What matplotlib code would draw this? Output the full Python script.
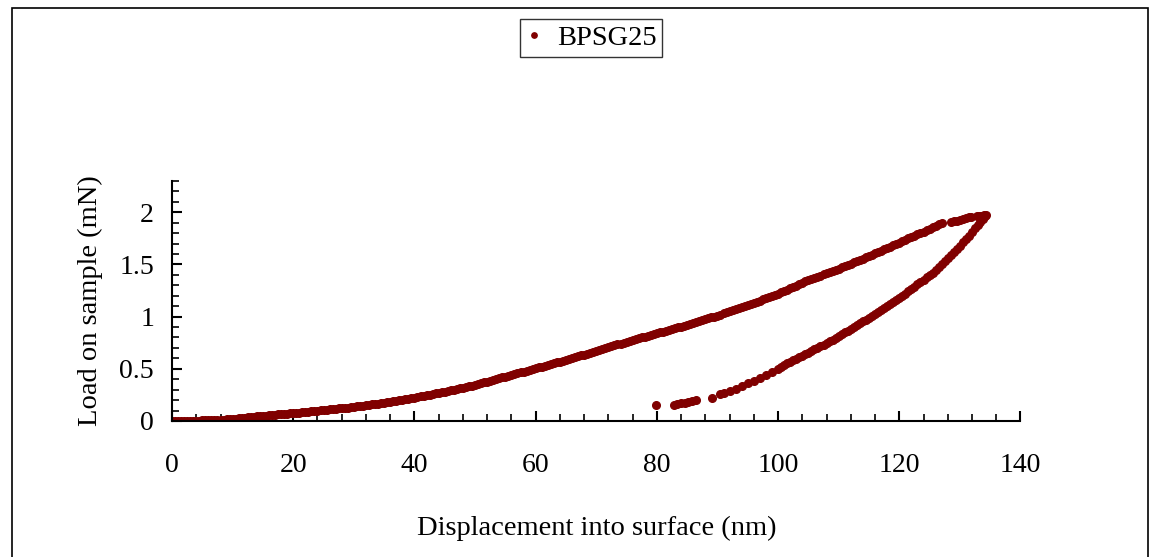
import numpy as np
import matplotlib
matplotlib.use("Agg")
from matplotlib import pyplot as plt
from matplotlib.patches import Rectangle
from matplotlib.ticker import MultipleLocator

plt.rcParams['font.family'] = ['Liberation Serif', 'DejaVu Serif']

# loading branch, every 0.5 nm (nm, mN)
load_x = np.arange(0, 127.5, 0.5)
load_y = [0.000, 0.0005, 0.001, 0.0015, 0.002, 0.0025, 0.003, 0.0035, 0.004, 0.0045,
          0.005, 0.006, 0.007, 0.008, 0.009, 0.0105, 0.012, 0.014, 0.016, 0.018,
          0.020, 0.023, 0.026, 0.029, 0.032, 0.035, 0.038, 0.041, 0.044, 0.047,
          0.050, 0.0525, 0.055, 0.0575, 0.060, 0.0625, 0.065, 0.0675, 0.070, 0.0725,
          0.075, 0.078, 0.081, 0.084, 0.087, 0.090, 0.093, 0.096, 0.099, 0.102,
          0.105, 0.108, 0.111, 0.114, 0.117, 0.120, 0.123, 0.126, 0.129, 0.132,
          0.135, 0.139, 0.143, 0.147, 0.151, 0.155, 0.159, 0.163, 0.167, 0.171,
          0.175, 0.1795, 0.184, 0.1885, 0.193, 0.1975, 0.202, 0.2065, 0.211, 0.218,
          0.225, 0.2305, 0.236, 0.2415, 0.247, 0.2525, 0.258, 0.2635, 0.269, 0.2745,
          0.280, 0.2865, 0.293, 0.2995, 0.306, 0.3125, 0.319, 0.3255, 0.332, 0.3385,
          0.345, 0.353, 0.361, 0.369, 0.377, 0.385, 0.393, 0.401, 0.409, 0.417,
          0.425, 0.433, 0.441, 0.449, 0.457, 0.465, 0.473, 0.481, 0.489, 0.497,
          0.505, 0.513, 0.521, 0.529, 0.537, 0.545, 0.553, 0.561, 0.569, 0.577,
          0.585, 0.5935, 0.602, 0.6105, 0.619, 0.6275, 0.636, 0.6445, 0.653, 0.6615,
          0.670, 0.679, 0.688, 0.697, 0.706, 0.715, 0.724, 0.733, 0.742, 0.751,
          0.760, 0.768, 0.776, 0.784, 0.792, 0.800, 0.808, 0.816, 0.824, 0.832,
          0.840, 0.848, 0.856, 0.864, 0.872, 0.880, 0.888, 0.896, 0.904, 0.912,
          0.920, 0.929, 0.938, 0.947, 0.956, 0.965, 0.974, 0.983, 0.992, 1.001,
          1.010, 1.020, 1.030, 1.040, 1.050, 1.060, 1.070, 1.080, 1.090, 1.100,
          1.110, 1.121, 1.132, 1.143, 1.154, 1.165, 1.176, 1.187, 1.198, 1.209,
          1.220, 1.233, 1.246, 1.259, 1.272, 1.285, 1.298, 1.311, 1.324, 1.337,
          1.350, 1.361, 1.372, 1.383, 1.394, 1.405, 1.416, 1.427, 1.438, 1.449,
          1.460, 1.472, 1.484, 1.496, 1.508, 1.520, 1.532, 1.544, 1.556, 1.568,
          1.580, 1.593, 1.606, 1.619, 1.632, 1.645, 1.658, 1.671, 1.684, 1.697,
          1.710, 1.723, 1.736, 1.749, 1.762, 1.775, 1.788, 1.801, 1.814, 1.827,
          1.840, 1.855, 1.870, 1.885, 1.900]

# hold near peak load
hold_x = [128.5, 129.0, 129.5, 130.0, 130.5, 131.0, 131.5, 131.9,
          132.8, 133.1, 133.4, 133.7, 134.0, 134.3]
hold_y = [1.905, 1.912, 1.920, 1.928, 1.937, 1.945, 1.952, 1.957,
          1.960, 1.963, 1.966, 1.969, 1.970, 1.970]

# unloading branch
unload_x = [134.2, 133.8, 133.4, 133.0, 132.5, 132.0, 131.5, 131.0, 130.5, 130.0,
            129.5, 129.0, 128.5, 128.0, 127.5, 127.0, 126.5, 126.0, 125.5, 125.0,
            124.5, 124.0, 123.5, 123.0, 122.5, 122.0, 121.5, 121.0, 120.5, 120.0,
            119.5, 119.0, 118.5, 118.0, 117.5, 117.0, 116.5, 116.0, 115.5, 115.0,
            114.5, 114.0, 113.5, 113.0, 112.5, 112.0, 111.5, 111.0, 110.5, 110.0,
            109.5, 109.0, 108.5, 108.0, 107.5, 107.0, 106.5, 106.0, 105.5, 105.0,
            104.5, 104.0, 103.5, 103.0, 102.5, 102.0, 101.5, 101.0, 100.5, 100.0,
            99.0, 98.0, 97.0, 96.0, 95.0, 94.0, 93.0, 92.0, 91.0, 90.4,
            89.1,
            86.4, 85.8, 85.2, 84.6, 84.0, 83.4, 82.8,
            79.9]
unload_y = [1.960, 1.935, 1.910, 1.880, 1.845, 1.810, 1.777, 1.745, 1.712, 1.680,
            1.650, 1.620, 1.590, 1.560, 1.530, 1.500, 1.472, 1.445, 1.422, 1.400,
            1.377, 1.355, 1.332, 1.310, 1.287, 1.265, 1.242, 1.220, 1.200, 1.180,
            1.160, 1.140, 1.120, 1.100, 1.080, 1.060, 1.042, 1.025, 1.007, 0.990,
            0.972, 0.955, 0.937, 0.920, 0.902, 0.885, 0.867, 0.850, 0.832, 0.815,
            0.797, 0.780, 0.764, 0.748, 0.732, 0.716, 0.700, 0.685, 0.670, 0.655,
            0.640, 0.625, 0.610, 0.595, 0.580, 0.566, 0.552, 0.538, 0.520, 0.502,
            0.470, 0.440, 0.410, 0.385, 0.360, 0.335, 0.310, 0.290, 0.270, 0.255,
            0.225,
            0.200, 0.192, 0.184, 0.176, 0.168, 0.160, 0.153,
            0.153]

x = np.concatenate([load_x, hold_x, unload_x])
y = np.concatenate([load_y, hold_y, unload_y])

color = '#800000'

fig = plt.figure(figsize=(11.57, 5.57), dpi=100)
ax = fig.add_axes([0.1487, 0.2442, 0.7333, 0.4309])

line, = ax.plot(x, y, linestyle='none', marker='o', markersize=5.5,
                markerfacecolor=color, markeredgecolor=color, label='BPSG25')

ax.set_xlim(0, 140)
ax.set_ylim(0, 2.3)
ax.xaxis.set_major_locator(MultipleLocator(20))
ax.xaxis.set_minor_locator(MultipleLocator(4))
ax.yaxis.set_minor_locator(MultipleLocator(0.1))
ax.set_yticks([0, 0.5, 1, 1.5, 2])
ax.set_yticklabels(['0', '0.5', '1', '1.5', '2'])

for s in ['top', 'right']:
    ax.spines[s].set_visible(False)
for s in ['left', 'bottom']:
    ax.spines[s].set_linewidth(1.5)

ax.tick_params(axis='x', which='major', direction='in', length=7, width=1.5, pad=23, labelsize=20)
ax.tick_params(axis='x', which='minor', direction='in', length=5, width=1.2)
ax.tick_params(axis='y', which='major', direction='in', length=7, width=1.5, pad=13, labelsize=20)
ax.tick_params(axis='y', which='minor', direction='in', length=5, width=1.2)

ax.set_xlabel('Displacement into surface (nm)', fontsize=20.5, labelpad=27)
ax.set_ylabel('Load on sample (mN)', fontsize=20.5, labelpad=12)

leg = fig.legend(handles=[line], loc='center', bbox_to_anchor=(0.511, 0.932),
                 fontsize=20.5, frameon=True, fancybox=False, markerscale=0.7,
                 handlelength=0.6, handletextpad=0.5, borderpad=0.2)
leg.get_frame().set_edgecolor('black')
leg.get_frame().set_linewidth(1.0)

# chart area border
fig.patches.append(Rectangle((12 / 1157, -0.01), 1136 / 1157, 1 - 8 / 557 + 0.01,
                             transform=fig.transFigure, fill=False,
                             edgecolor='black', linewidth=1.2))

fig.savefig('out.png', dpi=100)
